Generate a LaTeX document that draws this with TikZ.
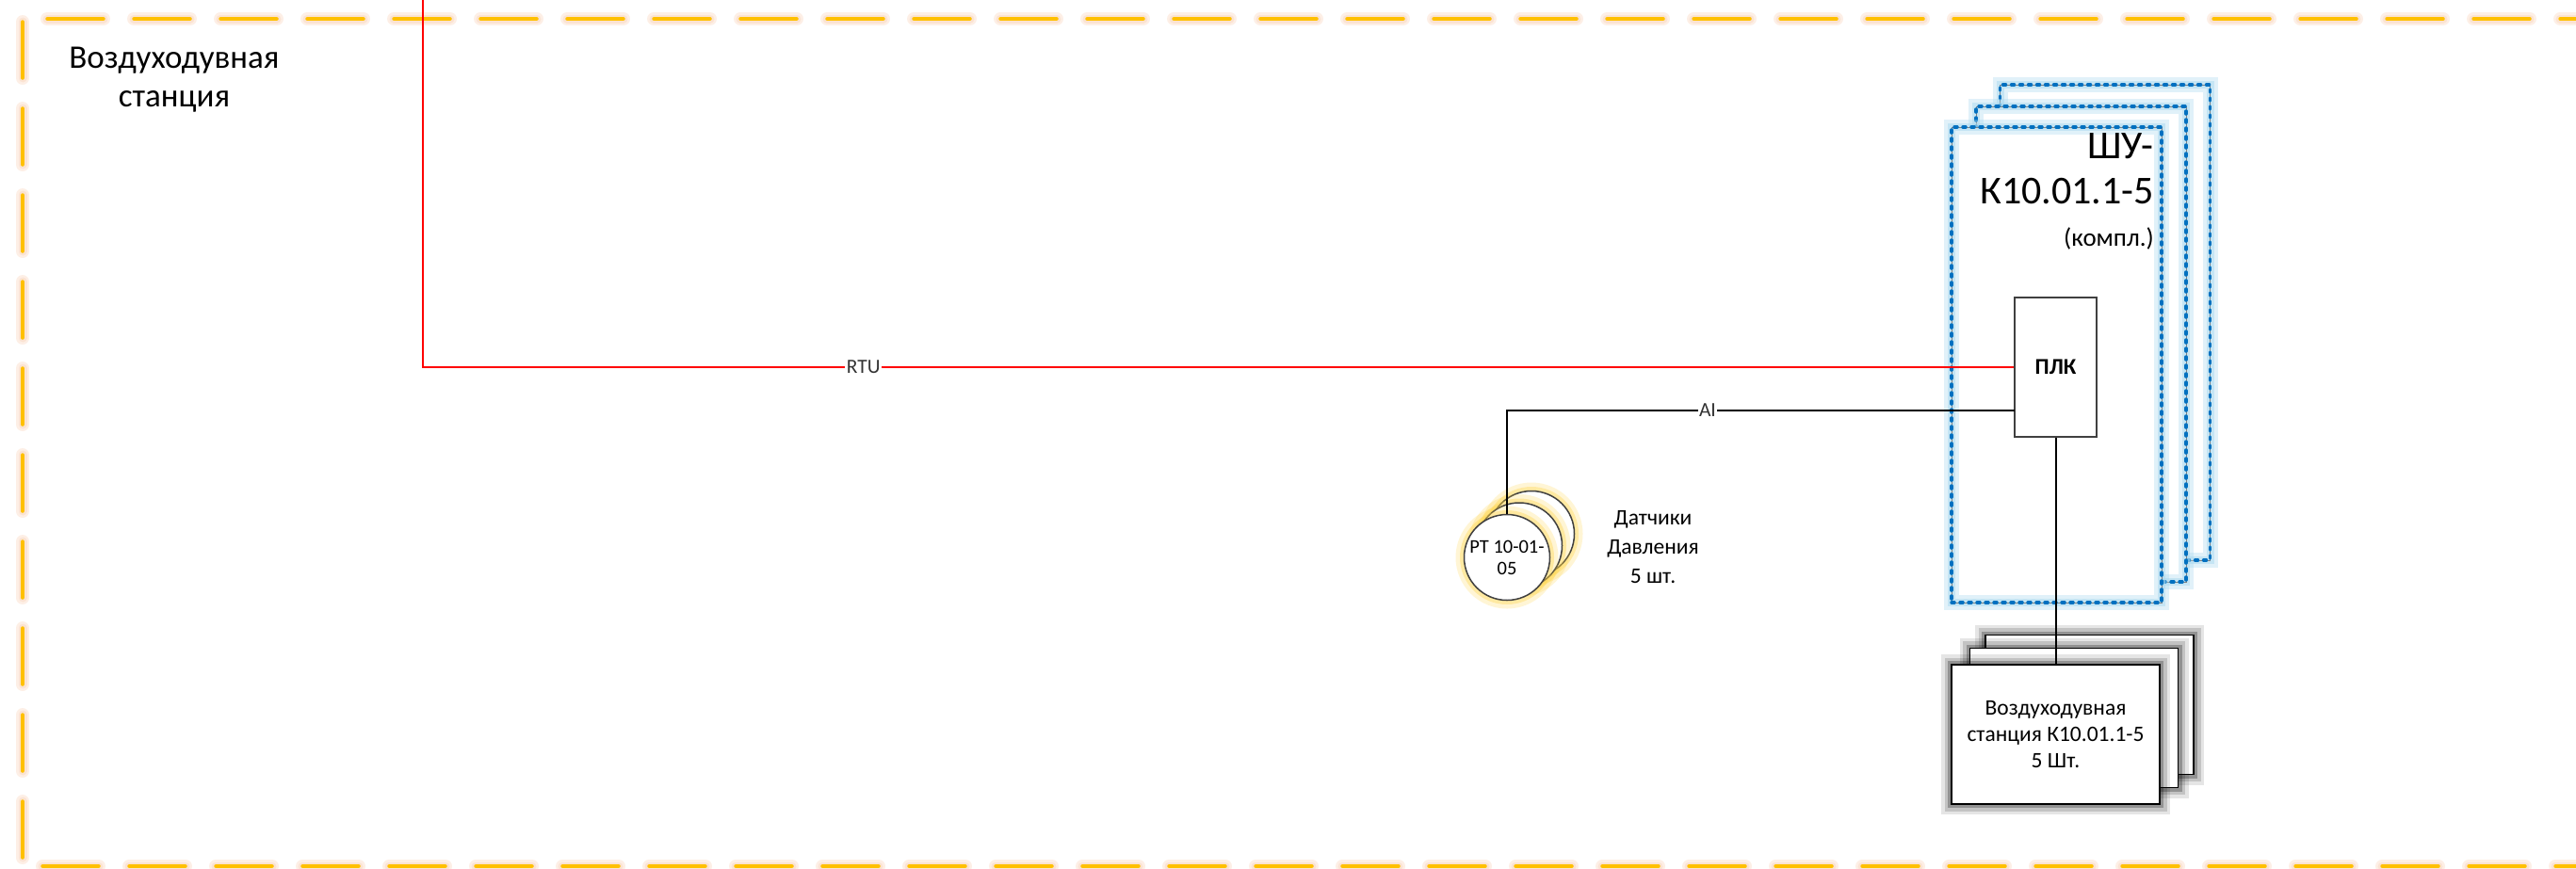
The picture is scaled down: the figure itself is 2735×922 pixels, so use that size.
\documentclass[tikz,border=0pt]{standalone}
\usepackage{fontspec}
\setmainfont{Carlito}
\definecolor{bordercore}{HTML}{FFC000}
\definecolor{borderglow}{HTML}{F8CBAD}
\definecolor{shublue}{HTML}{0070C0}
\definecolor{shuglow}{HTML}{A9D8EE}
\definecolor{sensglow}{HTML}{FFD23F}
\definecolor{edgegray}{HTML}{404040}
\definecolor{labelgray}{HTML}{333333}
\begin{document}
\begin{tikzpicture}[x=1pt,y=-1pt,
  fs/.style 2 args={font=\fontsize{#1}{#2}\selectfont},
  bglow/.style={draw=borderglow, line width=14pt, opacity=0.3, line cap=round, dash pattern=on 60pt off 32pt},
  bglowin/.style={draw=borderglow, line width=9pt, opacity=0.35, line cap=round, dash pattern=on 60pt off 32pt},
  bcore/.style={draw=bordercore, line width=4.5pt, line cap=round, dash pattern=on 59pt off 33pt},
  shubox/.style={minimum width=223pt, minimum height=505pt, inner sep=0pt, fill=white,
    postaction={draw=shuglow, line width=16pt, opacity=0.35},
    postaction={draw=shuglow, line width=8pt, opacity=0.5},
    postaction={draw=gray, line width=1pt},
    postaction={draw=shublue, line width=3.5pt, dash pattern=on 3pt off 6pt, line cap=round}},
  vsbox/.style={minimum width=221pt, minimum height=148pt, inner sep=0pt, fill=white, draw=black, line width=1.5pt,
    preaction={draw=black, line width=22pt, opacity=0.10},
    preaction={draw=black, line width=15pt, opacity=0.15},
    preaction={draw=black, line width=8pt, opacity=0.25},
    align=center, fs={23.5}{28}},
  sensor/.style={circle, minimum size=91pt, inner sep=0pt, fill=white, draw=edgegray, line width=1.5pt,
    preaction={draw=sensglow, line width=18pt, opacity=0.22},
    preaction={draw=sensglow, line width=9pt, opacity=0.35},
    align=center, fs={20.5}{23}},
  plkbox/.style={minimum width=87pt, minimum height=148pt, inner sep=0pt, fill=white, draw=edgegray, line width=1.5pt, font=\fontsize{24}{28}\selectfont\bfseries},
  redline/.style={draw=red, line width=2pt},
  blkline/.style={draw=black, line width=2pt},
  lbl/.style={fill=white, inner sep=1.5pt, text=labelgray, fs={21.5}{24}},
  plain/.style={inner sep=0pt}
]
\useasboundingbox (0,0) rectangle (2735,922);

% outer dashed frame
\draw[bglow, dash phase=66pt] (24,20) -- (2770,20);
\draw[bglow, dash phase=89pt] (24,20) -- (24,930);
\draw[bglow, dash phase=71pt] (24,920) -- (2770,920);
\draw[bglowin, dash phase=66pt] (24,20) -- (2770,20);
\draw[bglowin, dash phase=89pt] (24,20) -- (24,930);
\draw[bglowin, dash phase=71pt] (24,920) -- (2770,920);
\draw[bcore, dash phase=65.5pt] (24,20) -- (2770,20);
\draw[bcore, dash phase=88.5pt] (24,20) -- (24,930);
\draw[bcore, dash phase=70.5pt] (24,920) -- (2770,920);

% title
\node[plain, fs={35}{41}, anchor=base] (title1) at (185,72) {Воздуходувная};
\node[plain, fs={35}{41}, anchor=base] (title2) at (185,113) {станция};

% ShU stack
\node[shubox] (shu3) at (2235,342.5) {};
\node[shubox] (shu2) at (2209.5,365.5) {};
\node[shubox] (shu1) at (2183.5,387.5) {};
\node[plain, fs={42}{48}, anchor=base east] (shut1) at (2287,168) {ШУ-};
\node[plain, fs={42}{48}, anchor=base east] (shut2) at (2287,216) {К10.01.1-5};
\node[plain, fs={27}{30}, anchor=base east] (shut3) at (2287,261) {(компл.)};

% PLC
\node[plkbox] (plk) at (2182.5,390) {ПЛК};

% blower stations stack
\node[vsbox] (vs3) at (2218.5,748.5) {};
\node[vsbox] (vs2) at (2202,762.5) {};
\node[vsbox] (vs1) at (2182.5,780) {Воздуходувная\\станция К10.01.1-5\\5 Шт.};

% pressure sensors
\node[sensor] (s3) at (1626,567) {};
\node[sensor] (s2) at (1613,579.5) {};
\node[sensor] (s1) at (1600,592) {PT 10-01-\\05};
\node[plain, align=center, fs={23.5}{31}] (senslbl) at (1755,581) {Датчики\\Давления\\5 шт.};

% connectors
\coordinate (rtucorner) at (449,390);
\coordinate (rtutop) at (449,-3);
\coordinate (aicorner) at (1600,436);
\coordinate (aistart) at (2139,436);
\draw[redline] (plk.west) -- node[lbl, pos=0.7231] (rtulbl) {RTU} (rtucorner) -- (rtutop);
\draw[blkline] (aistart) -- node[lbl, pos=0.605] (ailbl) {AI} (aicorner) -- (s1.north);
\draw[blkline] (plk.south) -- (vs1.north);
\end{tikzpicture}
\end{document}
